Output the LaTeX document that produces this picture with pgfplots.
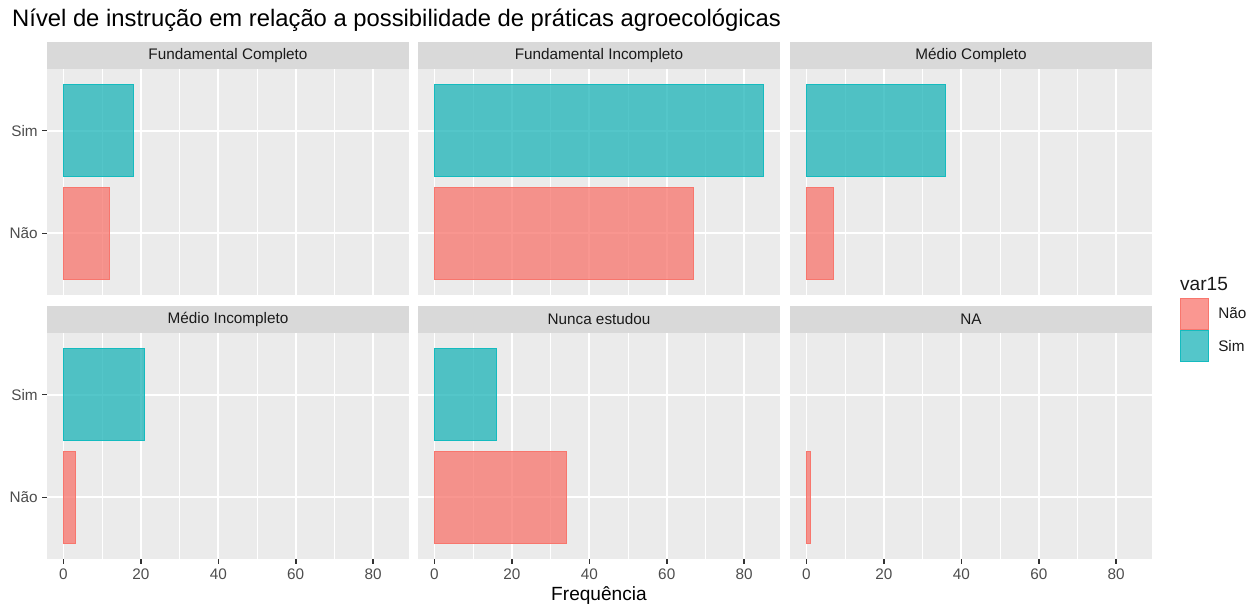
\documentclass[border=0pt]{standalone}
\usepackage{pgfplots}
\pgfplotsset{compat=1.18}
\usepackage{fontspec}
\setmainfont{Liberation Sans}
\definecolor{bggray}{HTML}{EBEBEB}
\definecolor{stripgray}{HTML}{D9D9D9}
\definecolor{tickgray}{HTML}{333333}
\definecolor{labgray}{HTML}{4D4D4D}
\definecolor{txtgray}{HTML}{1A1A1A}
\definecolor{naoc}{HTML}{F8766D}
\definecolor{naof}{HTML}{F8746C}
\definecolor{simc}{HTML}{14BBBF}
\definecolor{simf}{HTML}{1BB3B8}
\newcommand{\fsmall}{\fontsize{15.3}{18}\selectfont}
\newcommand{\fmid}{\fontsize{19.1}{22}\selectfont}
\newcommand{\fbig}{\fontsize{23.8}{27}\selectfont}
\pgfplotsset{
  every axis title shift=0pt,
  panel/.style={
    scale only axis, width=362pt, height=226pt, anchor=south west,
    xmin=-4.25, xmax=89.25, ymin=0.4, ymax=2.6,
    axis background/.style={fill=bggray},
    axis line style={draw=none},
    xtick={0,20,40,60,80}, minor xtick={10,30,50,70},
    ytick={1,2}, yticklabels={Não,Sim},
    xmajorgrids, xminorgrids, ymajorgrids,
    major grid style={white, line width=1.8pt},
    minor grid style={white, line width=0.9pt},
    tick align=outside, major tick length=4.8pt, minor tick length=0pt,
    tick style={draw=tickgray, line width=1.5pt},
    ticklabel style={font=\fsmall, text=labgray},
    /pgf/number format/assume math mode=true,
    xticklabel style={yshift=-1pt},
    yticklabel style={xshift=-1pt},
    xtick pos=bottom, ytick pos=left,
    xbar, bar width=0.9, bar shift=0pt,
    title style={font=\fsmall, text=txtgray, fill=stripgray, minimum width=362pt,
      minimum height=27pt, inner sep=0pt, at={(0.5,1)}, anchor=south},
    legend image code/.code={\draw[##1] (0pt,-15.5pt) rectangle (28pt,15.5pt);},
  },
  top/.style={xmajorticks=false, xminorticks=false},
  notfirst/.style={ymajorticks=false},
  nao/.style={fill=naof, fill opacity=0.75, draw=naoc, line width=1.1pt},
  sim/.style={fill=simf, fill opacity=0.75, draw=simc, line width=1.1pt},
}
\begin{document}
\begin{tikzpicture}
\path (0pt,0pt) rectangle (1254pt,605pt);
\node[anchor=base west, font=\fbig, text=black, inner sep=0pt] at (12pt,605pt-27pt)
  {Nível de instrução em relação a possibilidade de práticas agroecológicas};
% row 1
\begin{axis}[panel, top, at={(47pt,310pt)}, title={Fundamental Completo}]
\addplot[nao] coordinates {(12,1)};
\addplot[sim] coordinates {(18,2)};
\end{axis}
\begin{axis}[panel, top, notfirst, at={(418pt,310pt)}, title={Fundamental Incompleto}]
\addplot[nao] coordinates {(67,1)};
\addplot[sim] coordinates {(85,2)};
\end{axis}
\begin{axis}[panel, top, notfirst, at={(790pt,310pt)}, title={Médio Completo}, clip=false,
  legend style={at={(1.0773,-0.013)}, anchor=north west, draw=none, fill=none,
    inner sep=0pt, row sep=0pt, column sep=9pt, font=\fsmall, text=txtgray,
    nodes={inner sep=0pt, anchor=west}}]
\addplot[nao] coordinates {(7,1)};
\addlegendentry{Não}
\addplot[sim] coordinates {(36,2)};
\addlegendentry{Sim}
\node[anchor=base west, font=\fmid, text=txtgray, inner sep=0pt] at (rel axis cs:1.0773,0.018) {var15};
\end{axis}
% row 2
\begin{axis}[panel, at={(47pt,46pt)}, title={Médio Incompleto}]
\addplot[nao] coordinates {(3,1)};
\addplot[sim] coordinates {(21,2)};
\end{axis}
\begin{axis}[panel, notfirst, at={(418pt,46pt)}, title={Nunca estudou},
  xlabel={Frequência}, xlabel style={font=\fmid, text=black, yshift=-1pt}]
\addplot[nao] coordinates {(34,1)};
\addplot[sim] coordinates {(16,2)};
\end{axis}
\begin{axis}[panel, notfirst, at={(790pt,46pt)}, title={NA}]
\addplot[nao] coordinates {(1,1)};
\end{axis}
\end{tikzpicture}
\end{document}
